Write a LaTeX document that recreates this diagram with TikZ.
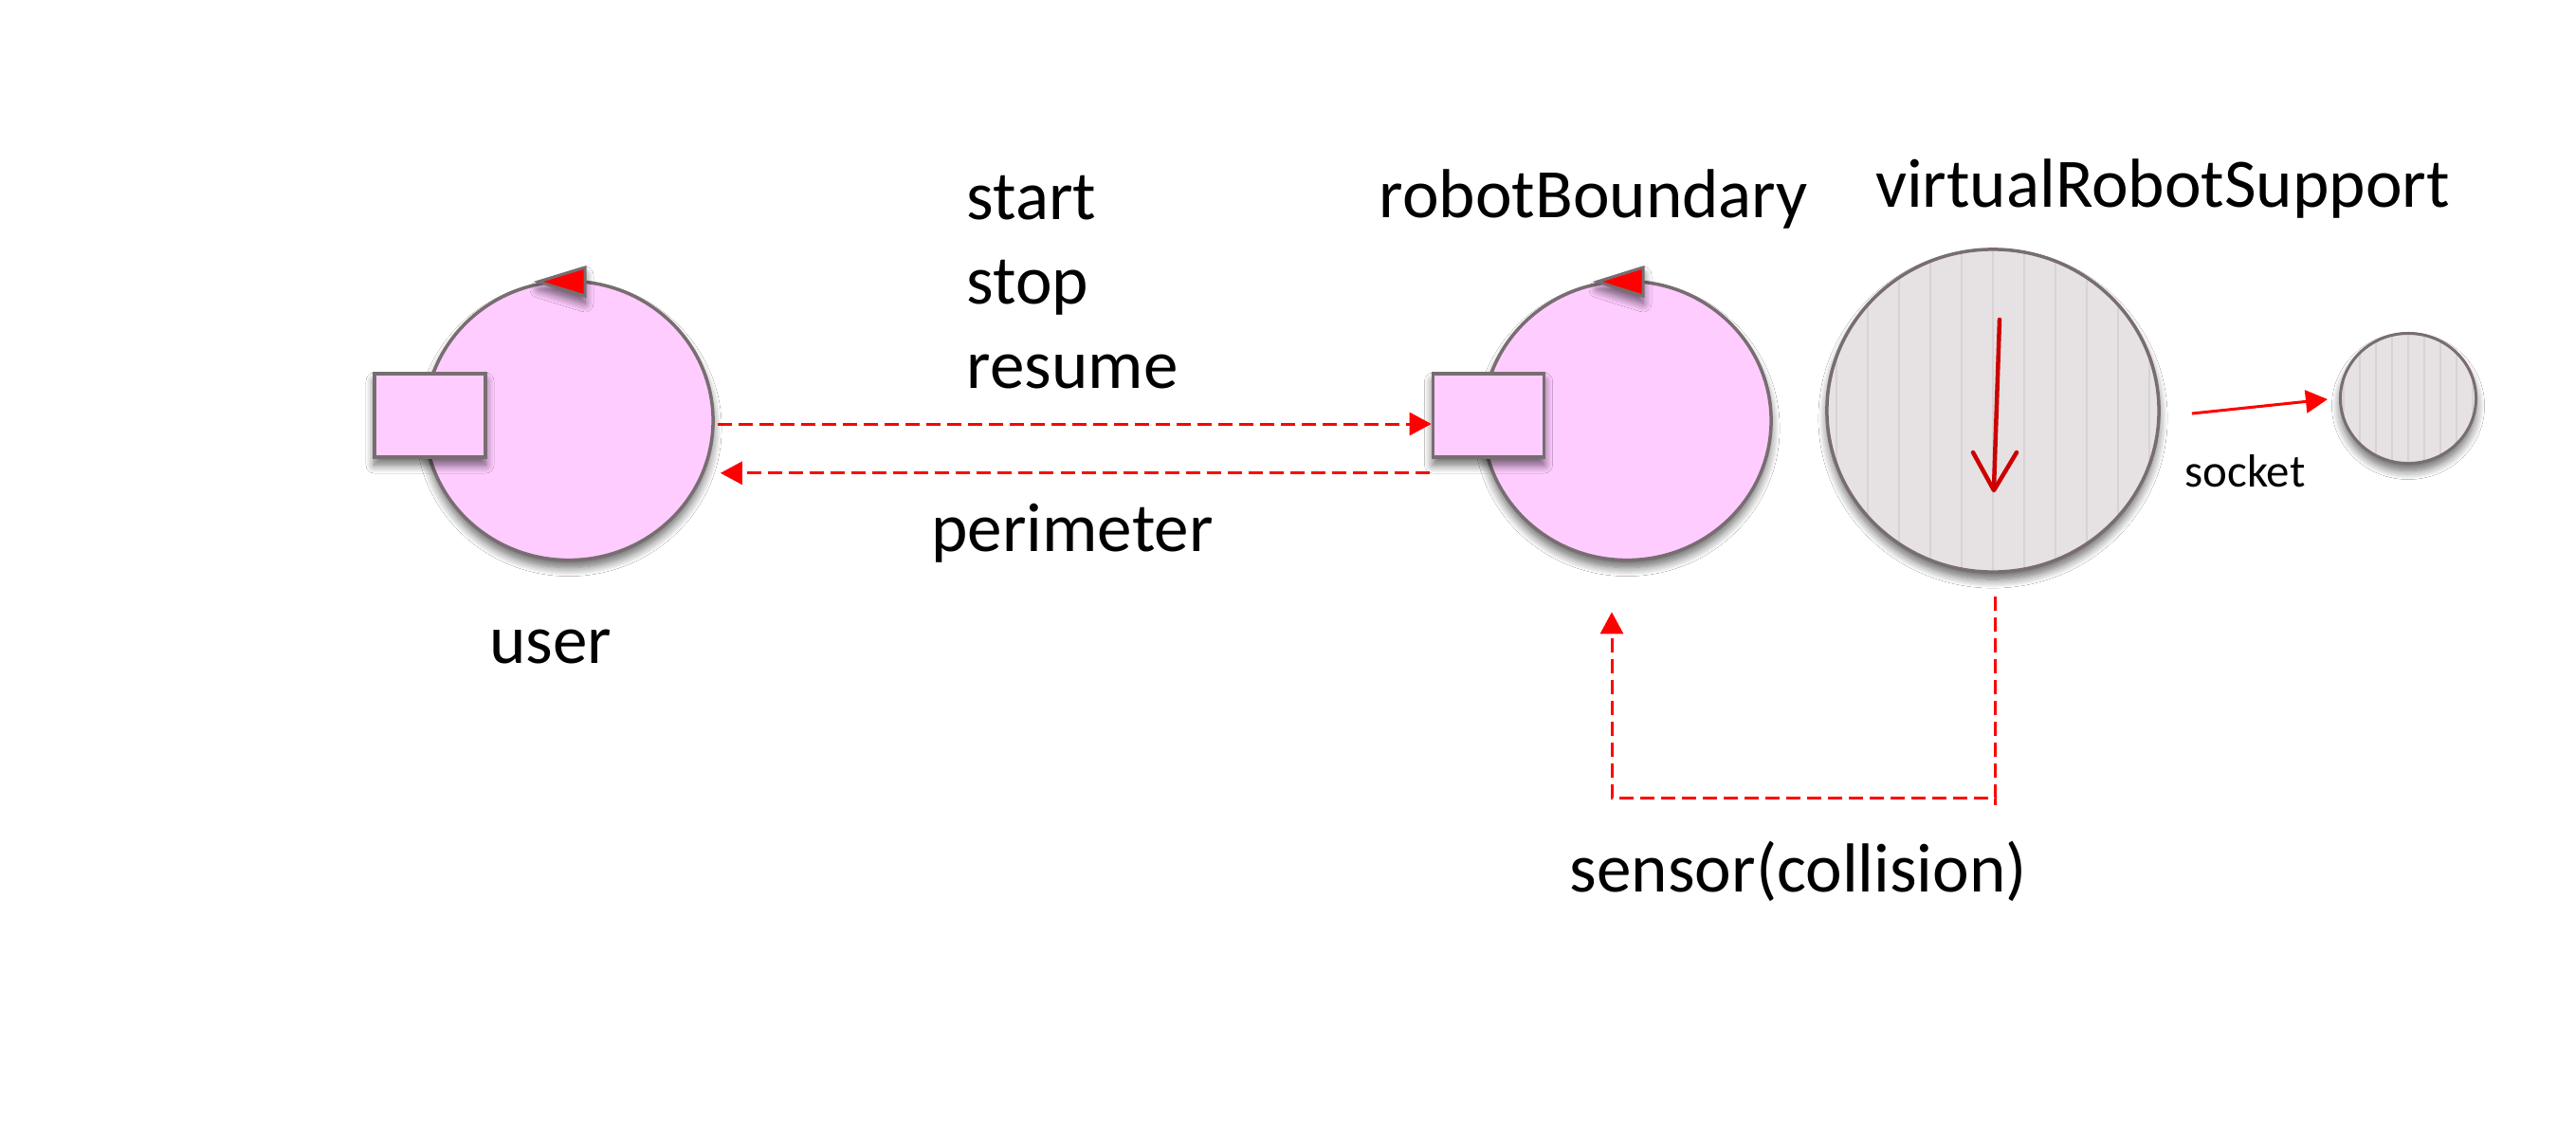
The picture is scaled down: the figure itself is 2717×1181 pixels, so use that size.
\documentclass[tikz,border=0pt]{standalone}
\usepackage{fontspec}
\setmainfont{Carlito}
\usetikzlibrary{shapes.geometric,arrows.meta,calc,shadows.blur}
\definecolor{pinkfill}{HTML}{FFCCFF}
\definecolor{edgegray}{HTML}{786D71}
\definecolor{grayfill}{HTML}{E6E1E3}
\definecolor{stripegray}{HTML}{D8D2D5}
\definecolor{darkred}{HTML}{CC0000}
\begin{document}
\begin{tikzpicture}[x=0.01cm,y=-0.01cm,
  shad/.style={blur shadow={shadow blur steps=10, shadow xshift=0cm, shadow yshift=-0.08cm, shadow blur radius=0.09cm, shadow opacity=60}},
  actor/.style={ellipse, draw=edgegray, line width=0.035cm, fill=pinkfill, inner sep=0, minimum width=3.04cm, minimum height=2.94cm, shad},
  port/.style={rectangle, draw=edgegray, line width=0.035cm, fill=pinkfill, inner sep=0, minimum width=1.17cm, minimum height=0.88cm, shad},
  bigsupport/.style={ellipse, draw=edgegray, line width=0.035cm, fill=grayfill, inner sep=0, minimum width=3.5cm, minimum height=3.4cm, shad,
    path picture={\foreach \k in {-6,...,6} \draw[stripegray, line width=0.025cm] ([xshift=\k*0.33cm]path picture bounding box.north) -- ([xshift=\k*0.33cm]path picture bounding box.south);}},
  smallsupport/.style={ellipse, draw=edgegray, line width=0.03cm, fill=grayfill, inner sep=0, minimum width=1.43cm, minimum height=1.37cm, shad,
    path picture={\foreach \k in {-5,...,5} \draw[stripegray, line width=0.02cm] ([xshift=\k*0.17cm]path picture bounding box.north) -- ([xshift=\k*0.17cm]path picture bounding box.south);}},
  marker/.style={fill=red, draw=edgegray, line width=0.03cm, line join=miter, shad},
  lbl/.style={font=\fontsize{20.8}{25}\selectfont, inner sep=0, anchor=base},
  small/.style={font=\fontsize{13.9}{17}\selectfont, inner sep=0, anchor=base},
  msg/.style={red, line width=0.03cm, dash pattern=on 0.15cm off 0.07cm, -{Triangle[length=0.23cm,width=0.24cm]}},
  link/.style={red, line width=0.03cm, -{Triangle[length=0.23cm,width=0.24cm]}},
]
\useasboundingbox[fill=white] (0,0) rectangle (2717,1181);

% user actor
\node[actor] (user) at (600,443.5) {};
\node[port] (urect) at (453.5,438) {};
\filldraw[marker] (568,297) -- (617,282) -- (617,312) -- cycle;

% robotBoundary actor
\node[actor] (robot) at (1716,443.5) {};
\node[port] (rrect) at (1570,438) {};
\filldraw[marker] (1685,297) -- (1733,282) -- (1733,312) -- cycle;

% virtualRobotSupport
\node[bigsupport] (vrs) at (2102,433) {};
\draw[darkred, line width=0.045cm, line cap=round] (2109,337) -- (2103,515);
\draw[darkred, line width=0.045cm, line cap=round, line join=round] (2081,477) -- (2103,517) -- (2127,477);

% socket target
\node[smallsupport] (sock) at (2540,420) {};

% labels
\node[lbl] (startlbl) at (1019,231) [anchor=base west] {start};
\node[lbl] (stoplbl) at (1019,320) [anchor=base west] {stop};
\node[lbl] (resumelbl) at (1019,409) [anchor=base west] {resume};
\node[lbl] (perimlbl) at (1131,581) {perimeter};
\node[lbl] (userlbl) at (581,699) {user};
\node[lbl] (robotlbl) at (1681,229) {robotBoundary};
\node[lbl] (vrslbl) at (2281,218) {virtualRobotSupport};
\node[lbl] (sensorlbl) at (1897,940) {sensor(collision)};
\node[small] (socklbl) at (2368,513) {socket};

% connectors
\draw[msg] ($(user.east |- rrect.west)+(3,9)$) -- ($(rrect.west)+(0,9)$);
\draw[msg] ($(rrect.south west)+(-2,15)$) -- ($(user.east |- rrect.south)+(6,15)$);
\draw[msg] ($(vrs.south)+(2,24)$) -- ($(vrs.south)+(2,237)$) -| ($(robot.south)+(-16,53)$);
\draw[red, line width=0.03cm] ($(vrs.south)+(2,237)$) -- ++(0,7);
\draw[link] ($(vrs.east)+(33,3)$) -- ($(sock.west)+(-12,1)$);
\end{tikzpicture}
\end{document}
